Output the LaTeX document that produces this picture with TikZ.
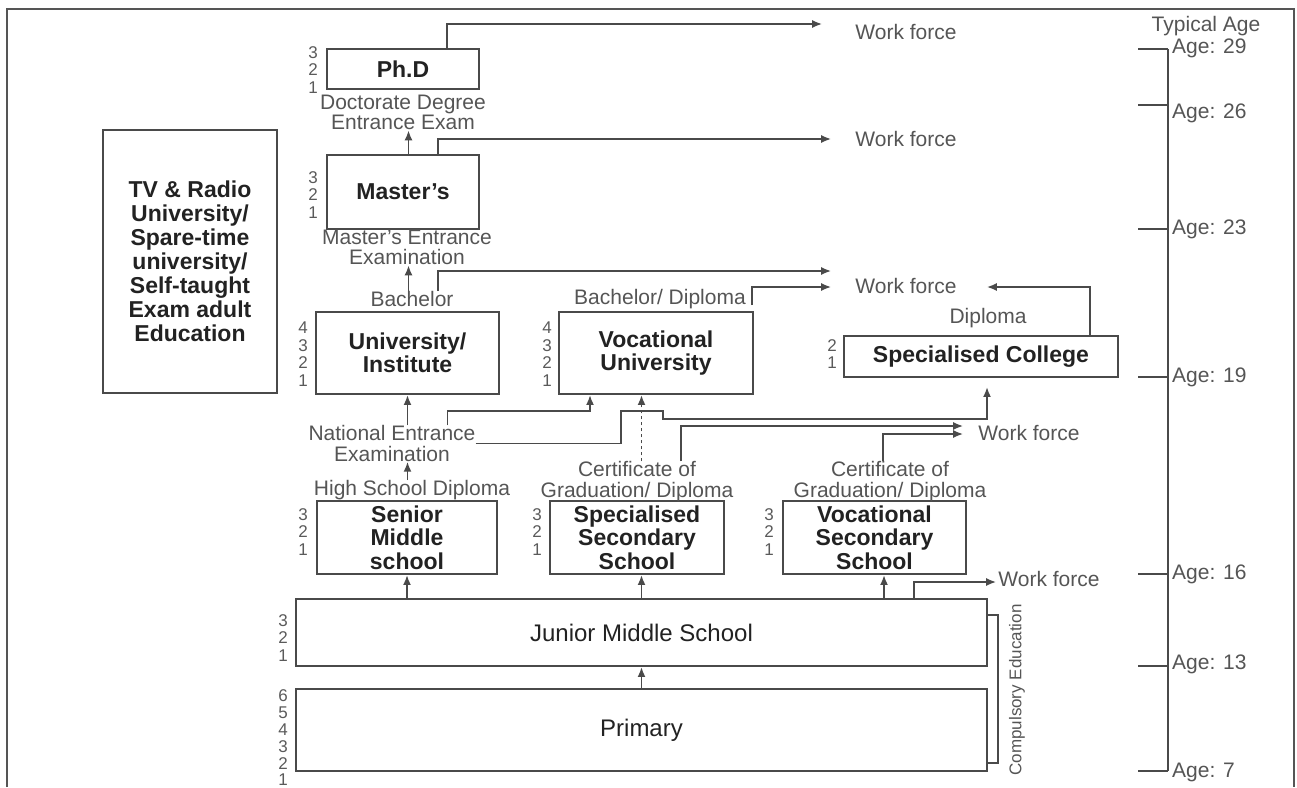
\documentclass[tikz,border=0pt]{standalone}
\usepackage{fontspec}
\setmainfont{Liberation Sans}
\usetikzlibrary{arrows.meta}
\definecolor{ln}{HTML}{4A4A4A}
\definecolor{fr}{HTML}{555555}
\definecolor{bx}{HTML}{222222}
\definecolor{lt}{HTML}{555555}
\definecolor{nt}{HTML}{5A5A5A}
\tikzset{
  box/.style={draw=ln, line width=1.9pt, inner sep=0pt, text=bx, align=center,
    font=\bfseries\fontsize{23}{23.5}\selectfont},
  plainbox/.style={box, font=\fontsize{24}{24}\selectfont},
  lbl/.style={text=lt, inner sep=0pt, align=center, font=\fontsize{21}{20.5}\selectfont},
  num/.style={text=nt, inner sep=0pt, align=center, font=\fontsize{17}{17.5}\selectfont},
  conn/.style={draw=ln, line width=1.9pt},
  arr/.style={conn, -{Latex[length=10pt,width=8pt]}},
  dotarr/.style={arr, dash pattern=on 3.5pt off 2.5pt}
}
\begin{document}
\begin{tikzpicture}[x=1pt,y=-1pt]
\useasboundingbox (0,0) rectangle (1297,787);
% frame
\draw[line width=2.6pt, draw=fr] (7,787) -- (7,9) -- (1294,9) -- (1294,787);

% boxes
\node[box, minimum width=174pt, minimum height=263pt, font=\bfseries\fontsize{23}{24}\selectfont] (tv) at (190,261.5)
  {TV \& Radio\\University/\\Spare-time\\university/\\Self-taught\\Exam adult\\Education};
\node[box, minimum width=152pt, minimum height=40pt] (phd) at (403,69) {Ph.D};
\node[box, minimum width=152pt, minimum height=74pt] (masters) at (403,192) {Master's};
\node[box, minimum width=183pt, minimum height=82pt] (univ) at (407.5,353) {University/\\Institute};
\node[box, minimum width=194pt, minimum height=82pt] (vocu) at (656,353) {Vocational\\University};
\node[box, minimum width=274pt, minimum height=41pt] (spcol) at (981,356.5) {Specialised College};
\node[box, minimum width=180pt, minimum height=73pt] (senior) at (407,537.5) {Senior\\Middle\\school};
\node[box, minimum width=174pt, minimum height=73pt] (specsec) at (637,537.5) {Specialised\\Secondary\\School};
\node[box, minimum width=183pt, minimum height=73pt] (vocsec) at (874.5,537.5) {Vocational\\Secondary\\School};
\node[plainbox, minimum width=691pt, minimum height=67pt] (junior) at (641.5,632.5) {Junior Middle School};
\node[plainbox, minimum width=691pt, minimum height=82pt] (primary) at (641.5,730) {Primary};

% year numbers
\node[num] (nphd) at (313,70) {3\\2\\1};
\node[num] (nmas) at (313,195) {3\\2\\1};
\node[num] (nuni) at (303,354) {4\\3\\2\\1};
\node[num] (nvoc) at (547,354) {4\\3\\2\\1};
\node[num] (nspc) at (832,354) {2\\1};
\node[num] (nsen) at (303,532) {3\\2\\1};
\node[num] (nsps) at (537,532) {3\\2\\1};
\node[num] (nvcs) at (769,532) {3\\2\\1};
\node[num] (njun) at (283,638) {3\\2\\1};
\node[num, font=\fontsize{17}{16.8}\selectfont] (npri) at (283,738) {6\\5\\4\\3\\2\\1};

% labels
\node[lbl] (doc) at (403,112.5) {Doctorate Degree\\Entrance Exam};
\node[lbl] (mexam) at (407,247.5) {Master's Entrance\\Examination};
\node[lbl] (bach) at (412,299) {Bachelor};
\node[lbl] (bd) at (660,299) {Bachelor/ Diploma};
\node[lbl] (dip) at (988,318) {Diploma};
\node[lbl] (nat) at (392,443.5) {National Entrance\\Examination};
\node[lbl] (hsd) at (412,490) {High School Diploma};
\node[lbl] (cert1) at (637,481.5) {Certificate of\\Graduation/ Diploma};
\node[lbl] (cert2) at (890,481.5) {Certificate of\\Graduation/ Diploma};
\node[lbl] (wf1) at (906,32) {Work force};
\node[lbl] (wf2) at (906,139) {Work force};
\node[lbl] (wf3) at (906,286) {Work force};
\node[lbl] (wf4) at (1029,433) {Work force};
\node[lbl] (wf5) at (1049,579) {Work force};
\node[lbl] (typ) at (1206,26) {Typical Age};
\node[lbl, font=\fontsize{17}{17}\selectfont, rotate=90] (comp) at (1017,690) {Compulsory Education};

% connectors
\draw[arr] ([xshift=44pt]phd.north) |- ([xshift=-33pt,yshift=8pt]wf1.west);
\draw[arr] (masters.north -| 408.5,0) -- (doc.south -| 408.5,0);
\draw[arr] (masters.north -| 438,0) |- ([xshift=-24pt]wf2.west);
\draw[arr] (bach.north -| 408.5,0) -- (mexam.south -| 408.5,0);
\draw[arr] (bach.north -| 438,0) |- ([xshift=-24pt,yshift=15pt]wf3.west);
\draw[arr] ([xshift=6pt,yshift=-6pt]bd.east) |- ([xshift=-24pt,yshift=-1pt]wf3.west);
\draw[arr] ([xshift=-29pt]spcol.north east) |- ([xshift=30pt,yshift=-1pt]wf3.east);
\draw[arr] (nat.north -| univ.south) -- (univ.south);
\draw[arr] (hsd.north -| univ.south) -- (nat.south -| univ.south);
\draw[arr] (nat.north -| 447.5,0) |- (590,411) -- (vocu.south -| 590,0);
\draw[arr] (nat.east) -| (621,411) -- (663,411) -- (663,419) -| ([xshift=6pt,yshift=-9pt]spcol.south);
\draw[dotarr] (cert1.north -| 641.5,0) -- (vocu.south -| 641.5,0);
\draw[arr] (cert1.north -| 681,0) |- ([xshift=-15pt,yshift=7pt]wf4.west);
\draw[arr] (cert2.north -| 883,0) |- ([xshift=-15pt,yshift=-1pt]wf4.west);
\draw[arr] (junior.north -| senior.south) -- (senior.south);
\draw[arr] (junior.north -| 641.5,0) -- (specsec.south -| 641.5,0);
\draw[arr] (junior.north -| 884,0) -- (vocsec.south -| 884,0);
\draw[arr] (junior.north -| 914,0) |- ([xshift=-2pt,yshift=-3pt]wf5.west);
\draw[arr] (primary.north) -- (junior.south);
\draw[conn] ([yshift=-17pt]junior.north east) -- ++(10,0) |- ([yshift=9pt]primary.south east);

% age axis
\draw[conn] (1168,49) -- (1168,771);
\foreach \yy/\lab/\ly [count=\i] in {49/29/48, 105/26/113, 229/23/229, 377/19/377, 574/16/574, 666/13/664, 771/7/772}{
  \draw[conn] (1138,\yy) -- (1168,\yy);
  \node[lbl, anchor=west] (age\i) at (1172,\ly) {Age: \lab};
}
\end{tikzpicture}
\end{document}
